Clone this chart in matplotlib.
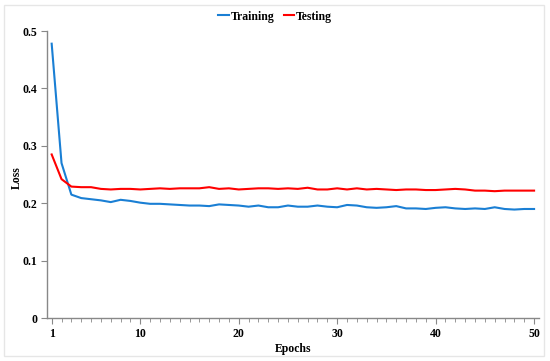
import numpy as np
import matplotlib.pyplot as plt
from matplotlib.patches import Rectangle

epochs = np.arange(1, 51)

train_loss = [0.478, 0.270, 0.215, 0.209, 0.207, 0.205, 0.202, 0.206, 0.204, 0.201,
              0.199, 0.199, 0.198, 0.197, 0.196, 0.196, 0.195, 0.198, 0.197, 0.196,
              0.194, 0.196, 0.193, 0.193, 0.196, 0.194, 0.194, 0.196, 0.194, 0.193,
              0.197, 0.196, 0.193, 0.192, 0.193, 0.195, 0.191, 0.191, 0.190, 0.192,
              0.193, 0.191, 0.190, 0.191, 0.190, 0.193, 0.190, 0.189, 0.190, 0.190]

test_loss = [0.285, 0.242, 0.229, 0.228, 0.228, 0.225, 0.224, 0.225, 0.225, 0.224,
             0.225, 0.226, 0.225, 0.226, 0.226, 0.226, 0.228, 0.225, 0.226, 0.224,
             0.225, 0.226, 0.226, 0.225, 0.226, 0.225, 0.227, 0.224, 0.224, 0.226,
             0.224, 0.226, 0.224, 0.225, 0.224, 0.223, 0.224, 0.224, 0.223, 0.223,
             0.224, 0.225, 0.224, 0.222, 0.222, 0.221, 0.222, 0.222, 0.222, 0.222]

x_labels = [1, 10, 20, 30, 40, 50]
y_ticks = [0, 0.1, 0.2, 0.3, 0.4, 0.5]

plt.rcParams['font.family'] = ['Liberation Serif', 'DejaVu Serif']
plt.rcParams['font.weight'] = 'bold'

fig = plt.figure(figsize=(5.5, 3.61), dpi=100)
ax = fig.add_axes([0.085, 0.119, 0.895, 0.795])

ax.plot(epochs, train_loss, color='#1a7fd4', lw=1.5, label='Training')
ax.plot(epochs, test_loss, color='#ff0000', lw=1.5, label='Testing')

ax.set_xlim(0.5, 50.5)
ax.set_ylim(0, 0.5)
ax.set_xticks(x_labels)
ax.set_xticks(epochs, minor=True)
ax.set_yticks(y_ticks)
ax.set_yticklabels(['0', '0.1', '0.2', '0.3', '0.4', '0.5'])

for s in ['top', 'right']:
    ax.spines[s].set_visible(False)
for s in ['left', 'bottom']:
    ax.spines[s].set_color('#888888')
    ax.spines[s].set_linewidth(1.0)

ax.tick_params(axis='both', which='major', direction='out', length=4,
               color='#888888', labelsize=8.5, pad=3)
ax.tick_params(axis='x', which='minor', direction='out', length=3, color='#888888')
for lbl in ax.get_xticklabels() + ax.get_yticklabels():
    lbl.set_fontweight('bold')

ax.set_xlabel('Epochs', fontsize=8.5, fontweight='bold', labelpad=2)
ax.set_ylabel('Loss', fontsize=8.5, fontweight='bold')
ax.yaxis.set_label_coords(-0.048, 0.49)

fig.legend(loc='upper center', bbox_to_anchor=(0.5, 1.0), ncol=2, frameon=False,
           handlelength=0.9, handletextpad=0.15, columnspacing=0.8,
           prop={'size': 8.5, 'weight': 'bold'})

fig.patches.append(Rectangle((4 / 550, 5 / 361), 540 / 550, 351 / 361,
                             transform=fig.transFigure, fill=False,
                             edgecolor='#e6e6e6', lw=1.0))

fig.savefig('out.png', dpi=100)
